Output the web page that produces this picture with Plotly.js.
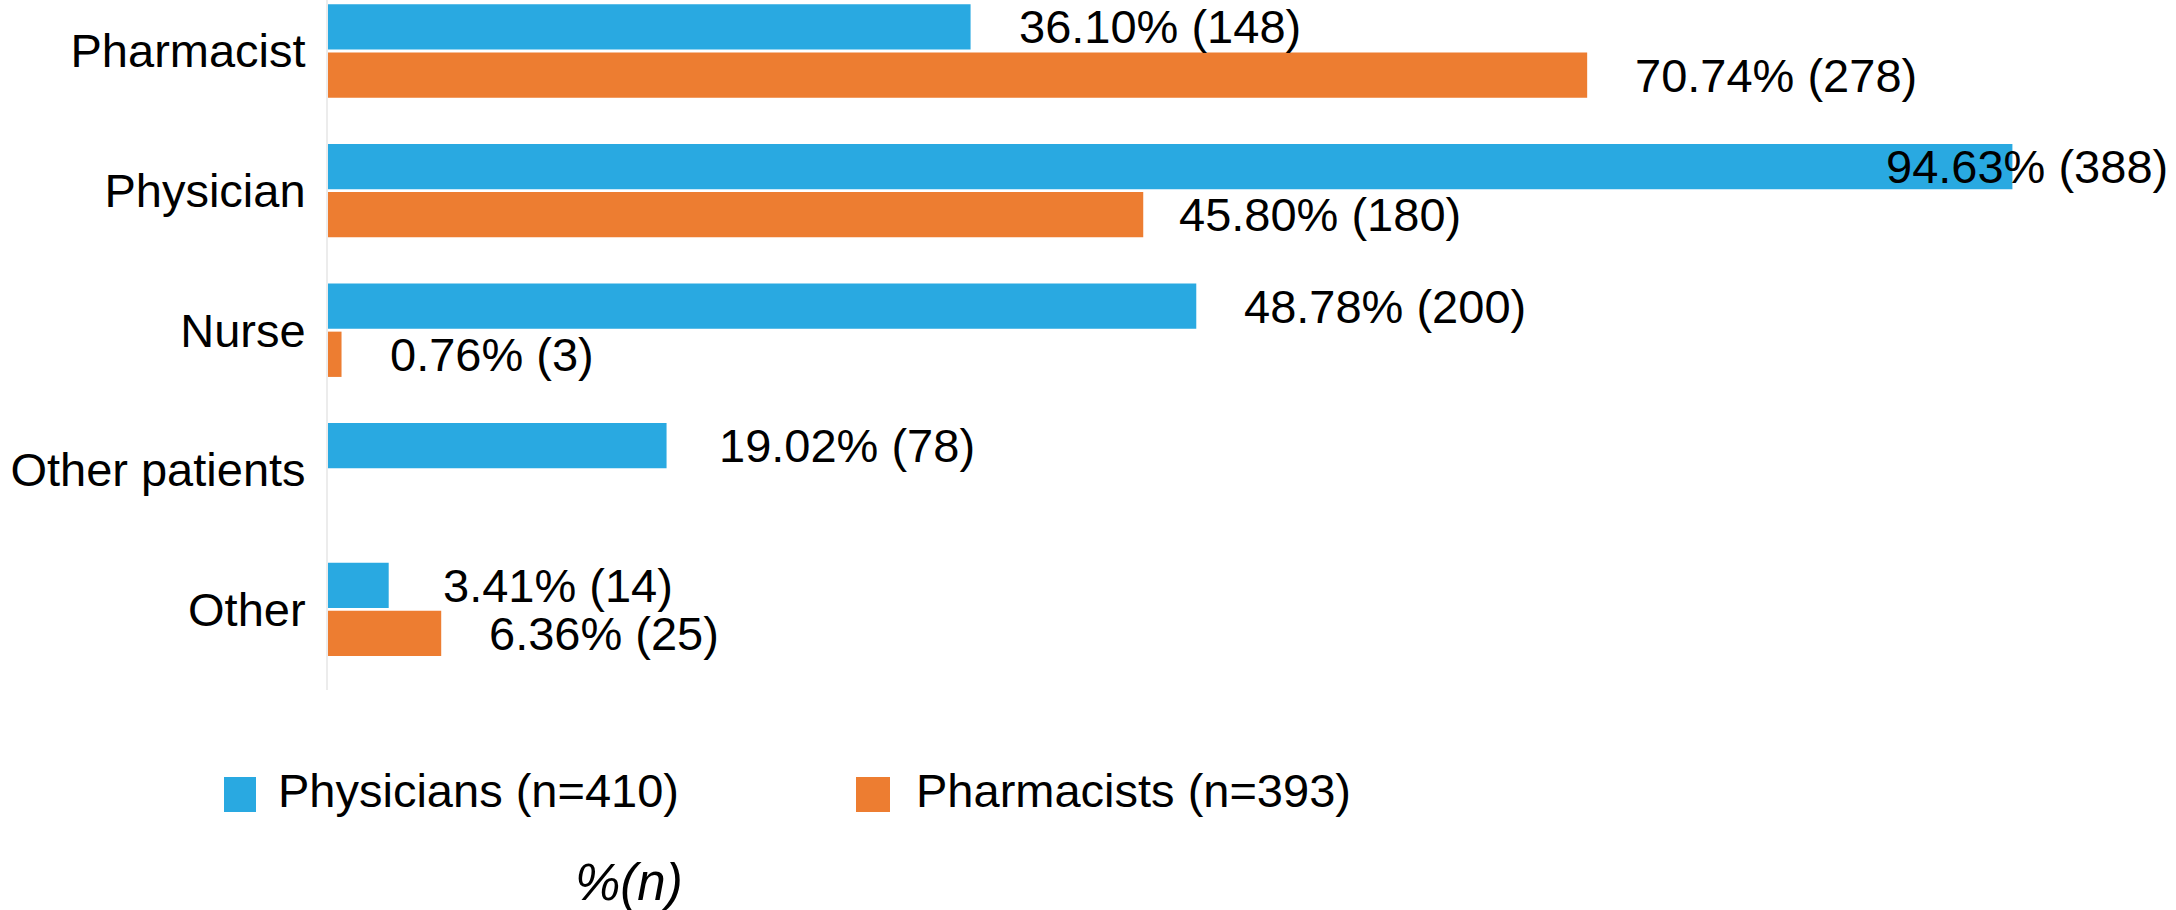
<!DOCTYPE html>
<html>
<head>
<meta charset="utf-8">
<script src="https://cdn.plot.ly/plotly-3.0.1.min.js"></script>
<style>html,body{margin:0;padding:0;background:#fff;}#chart{width:2176px;height:910px;}</style>
</head>
<body>
<div id="chart"></div>
<script>
// ---- data ----
var categories = ["Pharmacist", "Physician", "Nurse", "Other patients", "Other"];
var seriesNames = ["Physicians (n=410)", "Pharmacists (n=393)"];
var physiciansPct = [36.10, 94.63, 48.78, 19.02, 3.41];
var physiciansN = [148, 388, 200, 78, 14];
var pharmacistsPct = [70.74, 45.80, 0.76, null, 6.36];
var pharmacistsN = [278, 180, 3, null, 25];
var axisTitle = "%(n)";

// ---- style ----
var colors = ["#29A9E1", "#ED7D31"];
var FONT = "Liberation Sans, Arial, Helvetica, sans-serif";
var FS = 47;
var W = 2176, H = 910;
var M = {l: 328, r: 34, t: 0, b: 220};
var plotW = W - M.l - M.r, plotH = H - M.t - M.b;
var bargap = 0.31;
// per-label horizontal offsets (px) from the bar end
var defaultShift = 46;
var labelShift = {"Physician|0": -128, "Physician|1": 34, "Other patients|0": 50, "Other|0": 52};

function px2x(px) { return (px - M.l) / plotW; }
function px2y(py) { return 1 - (py - M.t) / plotH; }

var seriesPct = [physiciansPct, pharmacistsPct];
var seriesN = [physiciansN, pharmacistsN];

var traces = seriesPct.map(function (vals, s) {
  return {
    type: "bar", orientation: "h", name: seriesNames[s],
    y: categories, x: vals,
    marker: {color: colors[s]},
    hoverinfo: "x+y"
  };
});

var annotations = [];
seriesPct.forEach(function (vals, s) {
  vals.forEach(function (v, i) {
    if (v === null) return;
    var key = categories[i] + "|" + s;
    var sh = (key in labelShift) ? labelShift[key] : defaultShift;
    annotations.push({
      x: v, y: i + (s === 0 ? -1 : 1) * (1 - bargap) / 4,
      xref: "x", yref: "y",
      text: v.toFixed(2) + "% (" + seriesN[s][i] + ")",
      showarrow: false, xanchor: "left", yanchor: "middle", xshift: sh,
      font: {family: FONT, size: FS, color: "#000"}
    });
  });
});

// legend (drawn manually to match the tall square markers)
var legendItems = [
  {mx0: 224, mx1: 256, tx: 276},
  {mx0: 856, mx1: 890, tx: 914}
];
var shapes = [];
legendItems.forEach(function (it, s) {
  shapes.push({
    type: "rect", xref: "paper", yref: "paper",
    x0: px2x(it.mx0), x1: px2x(it.mx1), y0: px2y(777), y1: px2y(812),
    fillcolor: colors[s], line: {width: 0}
  });
  annotations.push({
    xref: "paper", yref: "paper", x: px2x(it.tx), y: px2y(791),
    xanchor: "left", yanchor: "middle", showarrow: false,
    text: seriesNames[s], font: {family: FONT, size: FS, color: "#000"}
  });
});

// axis title
annotations.push({
  xref: "paper", yref: "paper", x: px2x(629), y: px2y(882),
  xanchor: "center", yanchor: "middle", showarrow: false,
  text: "<i>" + axisTitle + "</i>", font: {family: FONT, size: 51, color: "#000"}
});

var spacing = 139.6, c0 = 51;
var layout = {
  width: W, height: H,
  margin: M,
  paper_bgcolor: "#fff", plot_bgcolor: "#fff",
  barmode: "group", bargap: bargap, bargroupgap: 0.06,
  showlegend: false,
  font: {family: FONT, size: FS, color: "#000"},
  xaxis: {
    range: [0, plotW / 17.8], showgrid: false, zeroline: false,
    showticklabels: false, ticks: "", showline: false
  },
  yaxis: {
    type: "category",
    range: [(plotH - c0) / spacing, -c0 / spacing],
    showgrid: false, zeroline: false, ticks: "",
    showline: true, linecolor: "#ececec", linewidth: 2,
    ticklabelstandoff: 11,
    tickfont: {family: FONT, size: FS, color: "#000"}
  },
  annotations: annotations,
  shapes: shapes
};

Plotly.newPlot("chart", traces, layout, {displayModeBar: false, staticPlot: true});
</script>
</body>
</html>
